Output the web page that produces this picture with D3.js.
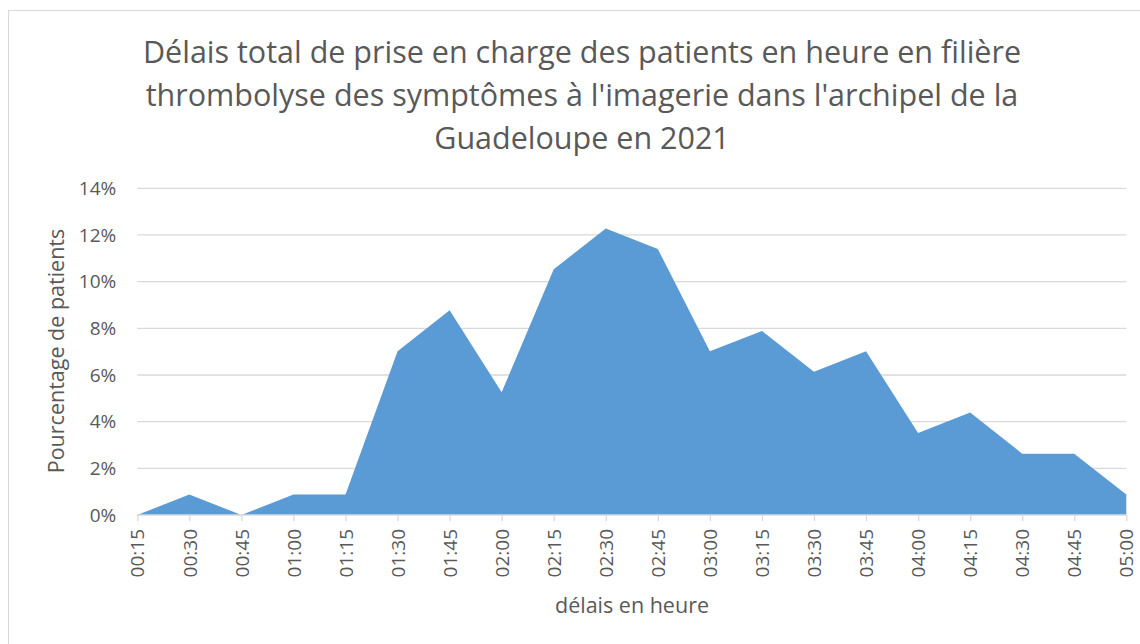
<!DOCTYPE html>
<html>
<head>
<meta charset="utf-8">
<script src="https://cdn.jsdelivr.net/npm/d3@7"></script>
<style>
  body { margin: 0; background: #fff; }
  svg { display: block; }
</style>
</head>
<body>
<div id="chart"></div>
<script>
// Données : délais (catégories) et pourcentage de patients
const categories = ["00:15","00:30","00:45","01:00","01:15","01:30","01:45","02:00","02:15","02:30",
                    "02:45","03:00","03:15","03:30","03:45","04:00","04:15","04:30","04:45","05:00"];
const percents = [0, 0.88, 0, 0.88, 0.88, 7.02, 8.77, 5.26, 10.53, 12.28,
                  11.40, 7.02, 7.89, 6.14, 7.02, 3.51, 4.39, 2.63, 2.63, 0.88];
const yTicks = [0, 2, 4, 6, 8, 10, 12, 14];
const titleLines = [
  "Délais total de prise en charge des patients en heure en filière",
  "thrombolyse des symptômes à l'imagerie dans l'archipel de la",
  "Guadeloupe en 2021"
];

const W = 1140, H = 644;
const font = "'Open Sans', sans-serif";
const grey = "#595959";

const svg = d3.select("#chart").append("svg")
  .attr("width", W)
  .attr("height", H);

// Cadre du graphique
svg.append("rect")
  .attr("x", 8.5).attr("y", 10.5)
  .attr("width", W).attr("height", H)
  .attr("fill", "none")
  .attr("stroke", "#d9d9d9");

// Échelles
const x = d3.scalePoint()
  .domain(categories)
  .range([137.3, 1126.3]);

const y = d3.scaleLinear()
  .domain([0, 14])
  .range([515, 188.3]);

// Grille horizontale
svg.selectAll(".grid")
  .data(yTicks.filter(d => d > 0))
  .enter()
  .append("line")
  .attr("class", "grid")
  .attr("x1", x.range()[0])
  .attr("x2", x.range()[1])
  .attr("y1", d => y(d))
  .attr("y2", d => y(d))
  .attr("stroke", "#d9d9d9")
  .attr("stroke-width", 1.3);

// Aire
const area = d3.area()
  .x((d, i) => x(categories[i]))
  .y0(y(0))
  .y1(d => y(d));

svg.append("path")
  .datum(percents)
  .attr("d", area)
  .attr("fill", "#5b9bd5");

// Axe X
const xAxis = svg.append("g")
  .attr("transform", `translate(0,${y(0)})`)
  .call(d3.axisBottom(x).tickSize(6).tickPadding(4));

xAxis.select(".domain").attr("stroke", "#d9d9d9").attr("stroke-width", 1.3)
  .attr("d", `M${x.range()[0]},0H${x.range()[1]}`);
xAxis.selectAll(".tick line").attr("stroke", "#d9d9d9").attr("stroke-width", 1.3);
xAxis.selectAll(".tick text")
  .attr("transform", "rotate(-90)")
  .attr("text-anchor", "end")
  .attr("x", -14)
  .attr("y", 0)
  .attr("dy", "0.35em")
  .attr("fill", grey)
  .attr("font-size", "19px")
  .attr("font-family", font);

// Axe Y
const yAxis = svg.append("g")
  .attr("transform", `translate(${x.range()[0]},0)`)
  .call(d3.axisLeft(y).tickValues(yTicks).tickSize(0).tickPadding(21).tickFormat(d => d + "%"));

yAxis.select(".domain").remove();
yAxis.selectAll(".tick text")
  .attr("fill", grey)
  .attr("font-size", "19px")
  .attr("font-family", font);

// Titre
svg.append("g").selectAll("text")
  .data(titleLines)
  .enter()
  .append("text")
  .attr("x", 582)
  .attr("y", (d, i) => 63 + i * 43)
  .attr("text-anchor", "middle")
  .attr("fill", grey)
  .attr("font-size", "30.5px")
  .attr("font-family", font)
  .text(d => d);

// Titres des axes
svg.append("text")
  .attr("transform", "translate(64,351) rotate(-90)")
  .attr("text-anchor", "middle")
  .attr("fill", grey)
  .attr("font-size", "21.5px")
  .attr("font-family", font)
  .text("Pourcentage de patients");

svg.append("text")
  .attr("x", 632)
  .attr("y", 613)
  .attr("text-anchor", "middle")
  .attr("fill", grey)
  .attr("font-size", "21.5px")
  .attr("font-family", font)
  .text("délais en heure");
</script>
</body>
</html>
